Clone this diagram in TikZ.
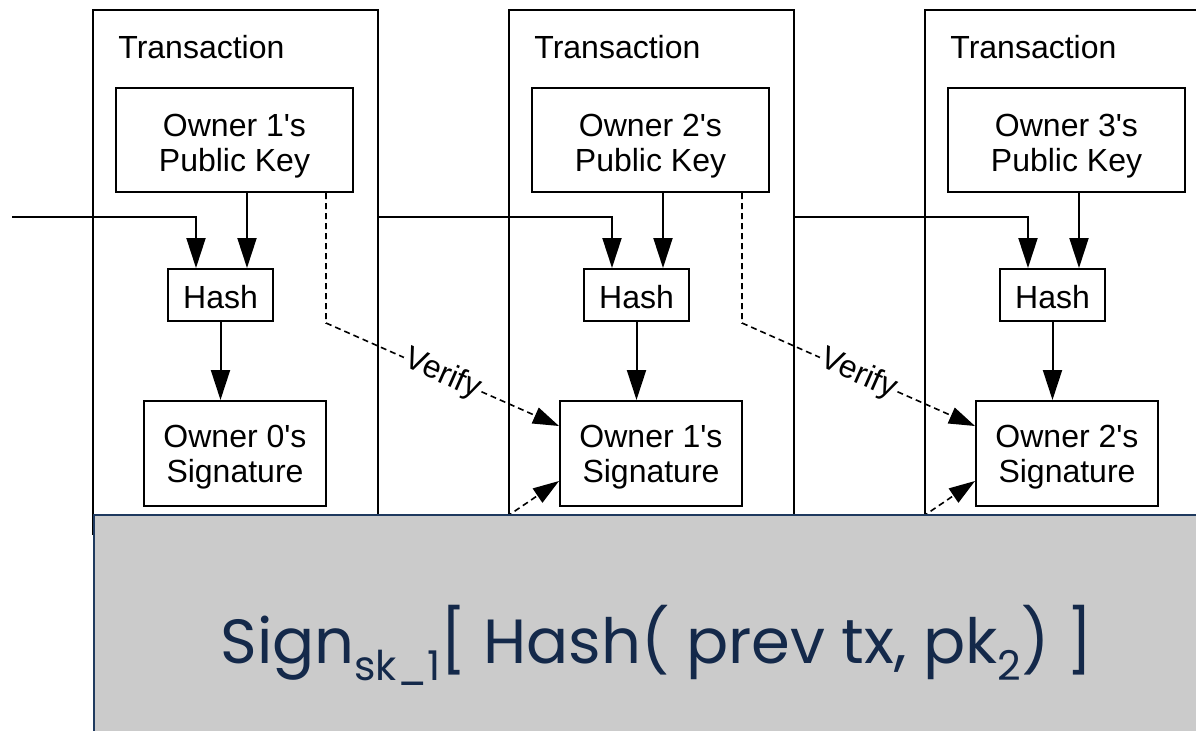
\documentclass[tikz,border=0pt]{standalone}
\usepackage{fontspec}
\setmainfont{Liberation Sans}
\newfontfamily\handfont{Poppins}
\usetikzlibrary{arrows.meta,calc}
\definecolor{panelgray}{HTML}{CBCBCB}
\definecolor{navy}{HTML}{14294A}
\definecolor{panelline}{HTML}{1F3A5F}

\begin{document}
\begin{tikzpicture}[x=0.5pt,y=-0.5pt,
  txbox/.style={draw,line width=1pt,rectangle,inner sep=0pt,anchor=north west,
                minimum width=142.5pt,minimum height=262pt},
  txlabel/.style={anchor=base west,inner sep=0pt,font=\fontsize{16}{17.5}\selectfont},
  box/.style={draw,line width=1pt,rectangle,inner sep=0pt,fill=white},
  boxtext/.style={inner sep=0pt,align=center,font=\fontsize{16}{17.5}\selectfont},
  link/.style={line width=1pt,-{Triangle[length=15pt,width=9.5pt]}},
  verifyline/.style={line width=0.8pt,dash pattern=on 3pt off 2pt,
                     -{Triangle[length=13pt,width=8.5pt]}},
]
\useasboundingbox (0,0) rectangle (1196,730);
\clip (0,0) rectangle (1196,730);

% one transaction per column: owner key, hash, previous owner's signature
\foreach \i/\l/\a/\b in {1/92/1/0, 2/508/2/1, 3/924/3/2} {
  \node[txbox] (tx\i) at (\l,9) {};
  \node[txlabel] (lbl\i) at (\l+26,58) {Transaction};
  \node[box,minimum width=118.5pt,minimum height=52pt] (pk\i) at (\l+142.5,140) {};
  \node[boxtext] (pkt\i) at ($(pk\i.center)+(0,6)$)
    {Owner \a\textquotesingle s\\Public Key};
  \node[box,minimum width=52.5pt,minimum height=26pt] (h\i) at (\l+128.5,295) {};
  \node[boxtext] (ht\i) at ($(h\i.center)+(0,2)$) {Hash};
  \node[box,minimum width=91pt,minimum height=52.5pt] (sig\i) at (\l+143,453.5) {};
  \node[boxtext] (sigt\i) at ($(sig\i.center)+(0,4)$)
    {Owner \b\textquotesingle s\\Signature};
  \coordinate (hl\i) at ($(h\i.north)+(-24.5,0)$);
  \coordinate (hr\i) at ($(h\i.north)+(26.5,0)$);
  \coordinate (vk\i) at ($(pk\i.south east)+(-28,0)$);
  \coordinate (vb\i) at ($(vk\i)+(0,130)$);
  \coordinate (vt\i) at ($(sig\i.north west)+(0,26)$);
  \coordinate (lo\i) at ($(sig\i.south west)+(0,-26)$);
  \coordinate (lf\i) at ($(lo\i)+(-94,64)$);
  % key into hash, hash into signature
  \draw[link] (hr\i |- pk\i.south) -- (hr\i);
  \draw[link] (h\i.south) -- (h\i.south |- sig\i.north);
}

% signatures checked with the previous owner's key, coming from below
\draw[verifyline] (lf2) -- (lo2);
\draw[verifyline] (lf3) -- (lo3);

% previous transaction feeding each hash
\coordinate (in0) at (12,217);
\coordinate (in1) at (tx1.east |- in0);
\coordinate (in2) at (tx2.east |- in0);
\draw[link] (in0) -- (in0 -| hl1) -- (hl1);
\draw[link] (in1) -- (in1 -| hl2) -- (hl2);
\draw[link] (in2) -- (in2 -| hl3) -- (hl3);

% verification of the next signature with the owner's key
\draw[verifyline] (vk1) -- (vb1) -- node[sloped,fill=white,inner sep=1pt,
  font=\fontsize{16}{17.5}\selectfont] (ver1) {Verify} (vt2);
\draw[verifyline] (vk2) -- (vb2) -- node[sloped,fill=white,inner sep=1pt,
  font=\fontsize{16}{17.5}\selectfont] (ver2) {Verify} (vt3);

% overlay panel with the signed expression
\node[fill=panelgray,draw=panelline,line width=1pt,inner sep=0pt,anchor=north west,
      minimum width=600pt,minimum height=150pt] (panel) at (93,514) {};
\node[anchor=base west,inner sep=0pt,text=navy,font=\handfont\fontsize{31.2}{36}\selectfont]
  (formula) at (220,663)
  {Sign\raisebox{-8.5pt}{\fontsize{20.5}{21}\selectfont sk\_1}[ Hash( prev tx, pk\raisebox{-8.5pt}{\fontsize{20.5}{21}\selectfont 2}) ]};
\end{tikzpicture}
\end{document}
